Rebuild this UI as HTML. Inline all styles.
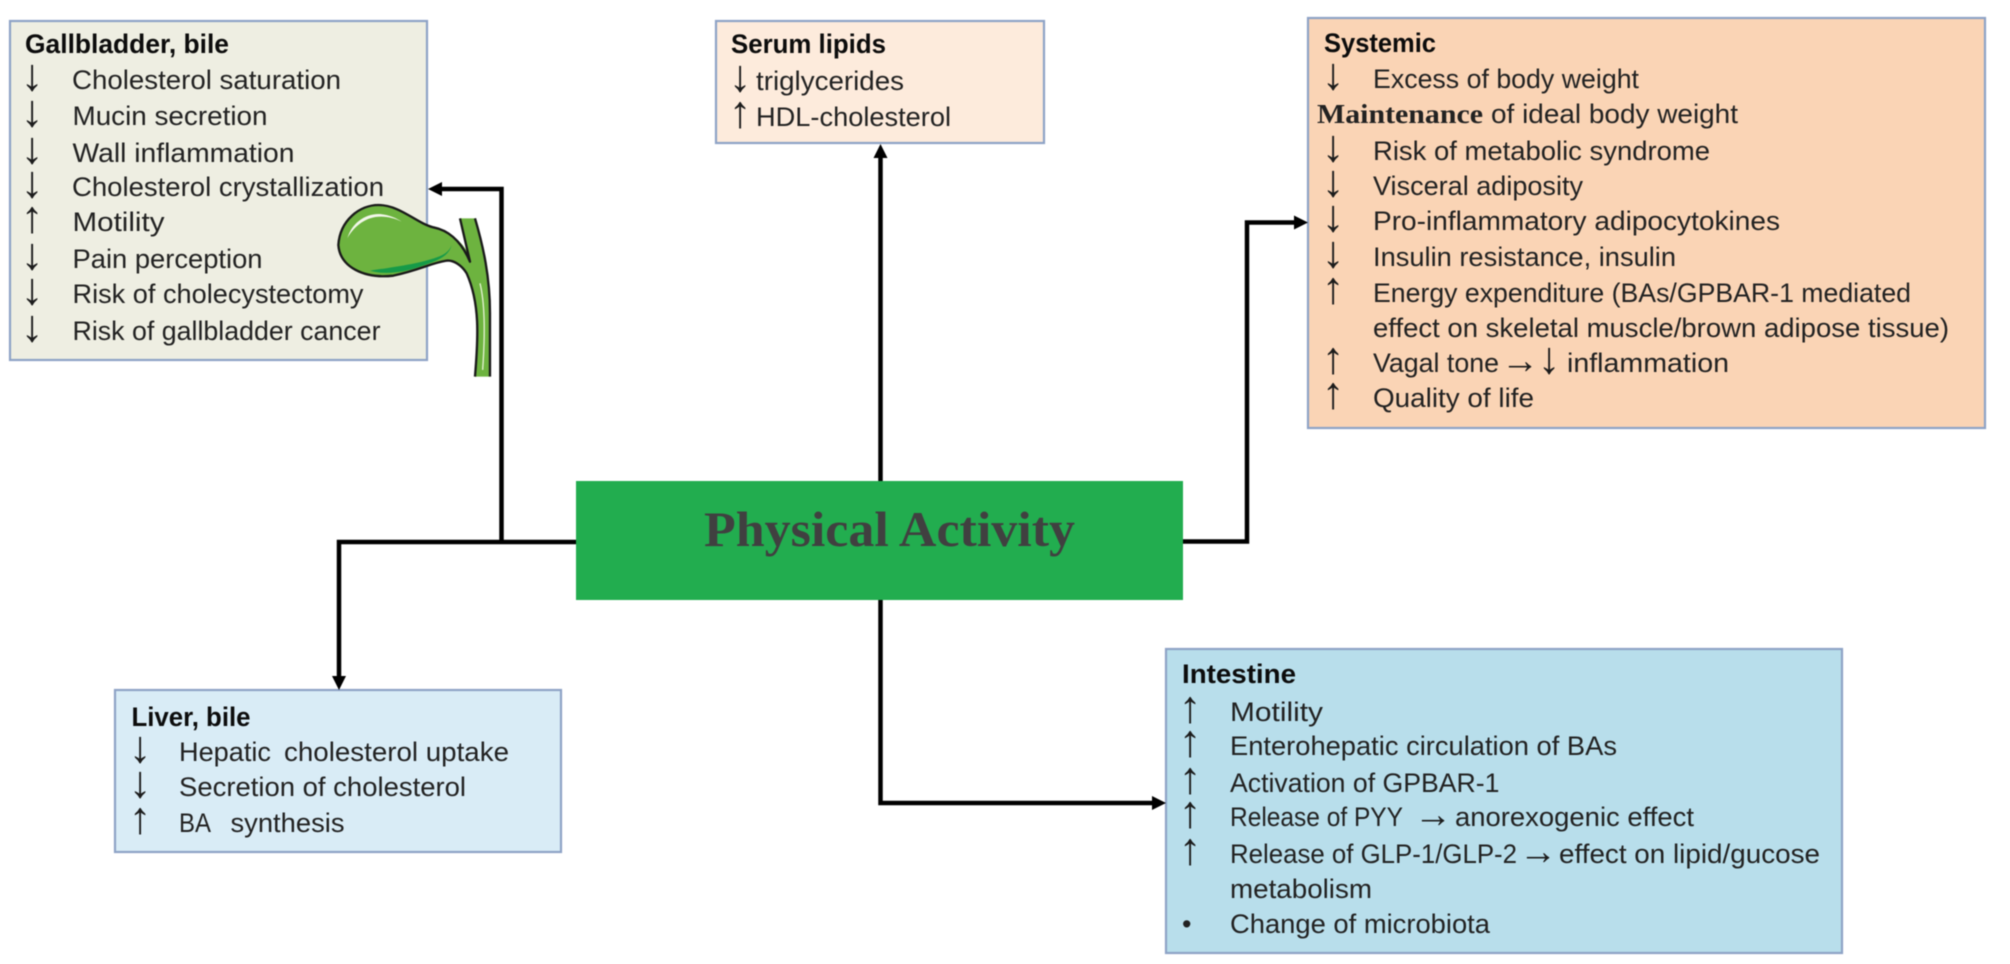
<!DOCTYPE html>
<html lang="en">
<head>
<meta charset="utf-8">
<title>Physical Activity</title>
<style>
html,body{margin:0;padding:0;background:#fff;width:2010px;height:964px;overflow:hidden}
svg{display:block;filter:blur(.55px)}
text{font-family:"Liberation Sans",sans-serif;font-size:27px;fill:#222}
.h{font-weight:bold;fill:#0c0c0c}
.a{font-size:45px;text-anchor:middle;fill:#1c1c1c}
.r{font-size:38px;text-anchor:middle;fill:#1c1c1c}
.box{stroke:#8ea3c6;stroke-width:2.2}
.ln{fill:none;stroke:#000;stroke-width:4.5}
</style>
</head>
<body>
<svg width="2010" height="964" viewBox="0 0 2010 964" xmlns="http://www.w3.org/2000/svg">
<rect width="2010" height="964" fill="#fff"/>

<!-- boxes -->
<rect class="box" x="10" y="21" width="417" height="339" fill="#eeeee2"/>
<rect class="box" x="716" y="21" width="328" height="122" fill="#fdebdc"/>
<rect class="box" x="1308" y="18" width="677" height="410" fill="#fad4b5"/>
<rect class="box" x="115" y="690" width="446" height="162" fill="#d9ecf6"/>
<rect class="box" x="1166" y="649" width="676" height="304" fill="#b8deeb"/>
<rect x="576" y="481" width="607" height="119" fill="#22ad4f"/>

<!-- connectors -->
<path class="ln" d="M576 542H339V678"/>
<path class="ln" d="M501.500 542V189H440"/>
<path class="ln" d="M880.500 481V156"/>
<path class="ln" d="M1183 541.500H1247V222.500H1296"/>
<path class="ln" d="M880.500 600V803H1154"/>
<path d="M339 690l-7-14h14z M428 189l14-7v14z M880.500 144l-7 14h14z M1308 222.500l-14-7v14z M1166 803l-14-7v14z" fill="#000"/>

<!-- gallbladder icon -->
<g transform="translate(320 170) scale(.3333)">
<path d="M55 225C60 150 120 105 175 105C240 105 290 160 340 172C380 180 420 205 445 250L420 145H465C490 230 510 320 510 430V620H465C475 500 480 400 440 310C425 285 400 270 380 272C330 280 300 300 220 317C130 327 60 290 55 225Z" fill="#6db33f"/>
<path d="M465 620C475 500 480 400 440 310C425 285 400 270 380 272C330 280 300 300 220 317C130 327 60 290 55 225C60 150 120 105 175 105C240 105 290 160 340 172C380 180 420 205 450 275L420 145" fill="none" stroke="#1a1a1a" stroke-width="7" stroke-linejoin="round"/>
<path d="M465 145C490 230 510 320 510 430V620" fill="none" stroke="#1a1a1a" stroke-width="7"/>
<path d="M150 302C230 290 300 280 350 262C375 255 390 240 395 225C385 265 340 275 300 290C250 308 190 315 150 302Z" fill="#169a48"/>
<path d="M82 205C95 160 135 130 180 132C210 135 230 145 245 155C215 140 180 135 150 145C120 155 95 180 82 205Z" fill="#f3f7ea"/>
<path d="M480 340C495 400 495 500 488 600" fill="none" stroke="#e4f2d2" stroke-width="4"/>
</g>

<!-- Physical Activity -->
<text x="704" y="546" textLength="371" lengthAdjust="spacingAndGlyphs" style="font-family:'Liberation Serif',serif;font-weight:bold;font-size:50px;fill:#404040">Physical Activity</text>

<!-- Gallbladder, bile -->
<text class="h" x="25" y="53" textLength="204" lengthAdjust="spacingAndGlyphs">Gallbladder, bile</text>
<text class="a" x="32" y="90">↓</text><text x="72" y="89" textLength="269" lengthAdjust="spacingAndGlyphs">Cholesterol saturation</text>
<text class="a" x="32" y="126">↓</text><text x="72.500" y="125" textLength="195" lengthAdjust="spacingAndGlyphs">Mucin secretion</text>
<text class="a" x="32" y="163">↓</text><text x="72.500" y="162" textLength="222" lengthAdjust="spacingAndGlyphs">Wall inflammation</text>
<text class="a" x="32" y="197">↓</text><text x="72" y="196" textLength="312" lengthAdjust="spacingAndGlyphs">Cholesterol crystallization</text>
<text class="a" x="32" y="232">↑</text><text x="72.500" y="231" textLength="92" lengthAdjust="spacingAndGlyphs">Motility</text>
<text class="a" x="32" y="269">↓</text><text x="72.500" y="268" textLength="190" lengthAdjust="spacingAndGlyphs">Pain perception</text>
<text class="a" x="32" y="304">↓</text><text x="72.500" y="303" textLength="291" lengthAdjust="spacingAndGlyphs">Risk of cholecystectomy</text>
<text class="a" x="32" y="341">↓</text><text x="72.500" y="340" textLength="308" lengthAdjust="spacingAndGlyphs">Risk of gallbladder cancer</text>

<!-- Serum lipids -->
<text class="h" x="731" y="53" textLength="155" lengthAdjust="spacingAndGlyphs">Serum lipids</text>
<text class="a" x="740" y="91">↓</text><text x="756" y="90" textLength="148" lengthAdjust="spacingAndGlyphs">triglycerides</text>
<text class="a" x="740" y="127">↑</text><text x="756" y="126" textLength="195" lengthAdjust="spacingAndGlyphs">HDL-cholesterol</text>

<!-- Systemic -->
<text class="h" x="1324" y="52" textLength="112" lengthAdjust="spacingAndGlyphs">Systemic</text>
<text class="a" x="1333" y="89">↓</text><text x="1373" y="88" textLength="266" lengthAdjust="spacingAndGlyphs">Excess of body weight</text>
<text x="1317" y="123" textLength="166" lengthAdjust="spacingAndGlyphs" style="font-family:'Liberation Serif',serif;font-weight:bold">Maintenance</text><text x="1491" y="123" textLength="247" lengthAdjust="spacingAndGlyphs">of ideal body weight</text>
<text class="a" x="1333" y="161">↓</text><text x="1373" y="160" textLength="337" lengthAdjust="spacingAndGlyphs">Risk of metabolic syndrome</text>
<text class="a" x="1333" y="196">↓</text><text x="1373" y="195" textLength="210" lengthAdjust="spacingAndGlyphs">Visceral adiposity</text>
<text class="a" x="1333" y="231">↓</text><text x="1373" y="230" textLength="407" lengthAdjust="spacingAndGlyphs">Pro-inflammatory adipocytokines</text>
<text class="a" x="1333" y="267">↓</text><text x="1373" y="266" textLength="303" lengthAdjust="spacingAndGlyphs">Insulin resistance, insulin</text>
<text class="a" x="1333" y="303">↑</text><text x="1373" y="302" textLength="538" lengthAdjust="spacingAndGlyphs">Energy expenditure (BAs/GPBAR-1 mediated</text>
<text x="1373" y="337" textLength="576" lengthAdjust="spacingAndGlyphs">effect on skeletal muscle/brown adipose tissue)</text>
<text class="a" x="1333" y="373">↑</text><text x="1373" y="372" textLength="126" lengthAdjust="spacingAndGlyphs">Vagal tone</text><text class="r" x="1520" y="373">→</text><text class="a" x="1549" y="373">↓</text><text x="1567" y="372" textLength="162" lengthAdjust="spacingAndGlyphs">inflammation</text>
<text class="a" x="1333" y="408">↑</text><text x="1373" y="407" textLength="161" lengthAdjust="spacingAndGlyphs">Quality of life</text>

<!-- Liver, bile -->
<text class="h" x="131.500" y="726" textLength="119" lengthAdjust="spacingAndGlyphs">Liver, bile</text>
<text class="a" x="140" y="762">↓</text><text x="179" y="761" textLength="92" lengthAdjust="spacingAndGlyphs">Hepatic</text><text x="284" y="761" textLength="225" lengthAdjust="spacingAndGlyphs">cholesterol uptake</text>
<text class="a" x="140" y="797">↓</text><text x="179" y="796" textLength="287" lengthAdjust="spacingAndGlyphs">Secretion of cholesterol</text>
<text class="a" x="140" y="833">↑</text><text x="179" y="832" textLength="32" lengthAdjust="spacingAndGlyphs">BA</text><text x="230.500" y="832" textLength="114" lengthAdjust="spacingAndGlyphs">synthesis</text>

<!-- Intestine -->
<text class="h" x="1182" y="683" textLength="114" lengthAdjust="spacingAndGlyphs">Intestine</text>
<text class="a" x="1190" y="722">↑</text><text x="1230" y="721" textLength="93" lengthAdjust="spacingAndGlyphs">Motility</text>
<text class="a" x="1190" y="756">↑</text><text x="1230" y="755" textLength="387" lengthAdjust="spacingAndGlyphs">Enterohepatic circulation of BAs</text>
<text class="a" x="1190" y="793">↑</text><text x="1230" y="792" textLength="269.500" lengthAdjust="spacingAndGlyphs">Activation of GPBAR-1</text>
<text class="a" x="1190" y="827">↑</text><text x="1230" y="826" textLength="173" lengthAdjust="spacingAndGlyphs">Release of PYY</text><text class="r" x="1433" y="827">→</text><text x="1455" y="826" textLength="239" lengthAdjust="spacingAndGlyphs">anorexogenic effect</text>
<text class="a" x="1190" y="864">↑</text><text x="1230" y="863" textLength="287" lengthAdjust="spacingAndGlyphs">Release of GLP-1/GLP-2</text><text class="r" x="1538" y="864">→</text><text x="1559" y="863" textLength="261" lengthAdjust="spacingAndGlyphs">effect on lipid/gucose</text>
<text x="1230" y="898" textLength="142" lengthAdjust="spacingAndGlyphs">metabolism</text>
<text x="1182" y="933">•</text><text x="1230" y="933" textLength="260" lengthAdjust="spacingAndGlyphs">Change of microbiota</text>
</svg>
</body>
</html>
